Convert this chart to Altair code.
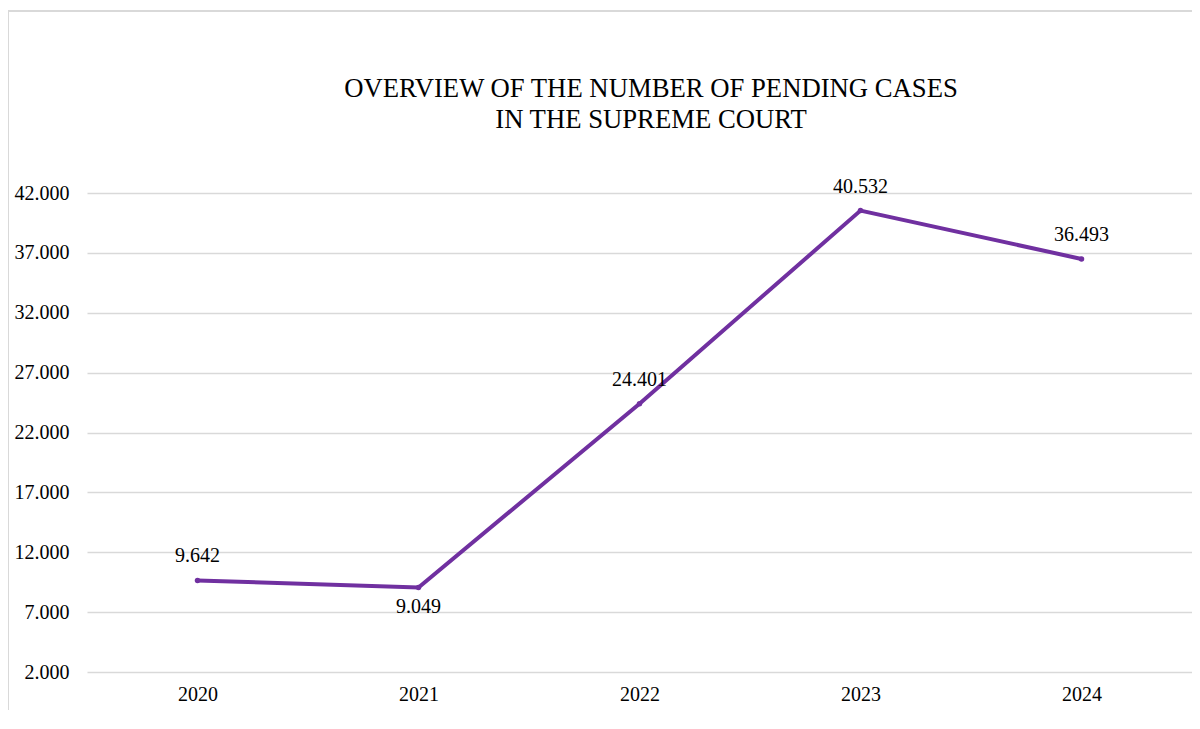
import altair as alt
import pandas as pd

years = ["2020", "2021", "2022", "2023", "2024"]
values = [9642, 9049, 24401, 40532, 36493]
label_pos = ["above", "below", "above", "above", "above"]
y_ticks = [2000, 7000, 12000, 17000, 22000, 27000, 32000, 37000, 42000]
title_lines = ["OVERVIEW OF THE NUMBER OF PENDING CASES", "IN THE SUPREME COURT"]

df = pd.DataFrame({"year": years, "value": values, "pos": label_pos})
df["label"] = [f"{v:,}".replace(",", ".") for v in values]

FONT = "Liberation Serif"
PURPLE = "#7030A0"
W, H = 1105, 479

x_enc = alt.X("year:N", sort=years, title=None,
              scale=alt.Scale(type="point", padding=0.5),
              axis=alt.Axis(labelAngle=0, ticks=False, domain=False, grid=False,
                            labelFont=FONT, labelFontSize=20, labelColor="#000000",
                            labelPadding=12))
y_enc = alt.Y("value:Q", title=None,
              scale=alt.Scale(domain=[2000, 42000], nice=False, zero=False),
              axis=alt.Axis(values=y_ticks, domain=False, ticks=False,
                            gridColor="#d9d9d9", gridWidth=1.5,
                            labelFont=FONT, labelFontSize=20, labelColor="#000000",
                            labelPadding=18,
                            labelExpr="replace(format(datum.value, ','), ',', '.')"))

base = alt.Chart(df)
line = base.mark_line(color=PURPLE, strokeWidth=4).encode(x=x_enc, y=y_enc)
pts = base.mark_circle(color=PURPLE, size=30, opacity=1).encode(x=x_enc, y=y_enc)

lab_above = base.transform_filter(alt.datum.pos == "above").mark_text(
    font=FONT, fontSize=20, color="#000000", dy=-24, baseline="middle"
).encode(x=x_enc, y=y_enc, text="label:N")
lab_below = base.transform_filter(alt.datum.pos == "below").mark_text(
    font=FONT, fontSize=20, color="#000000", dy=19, baseline="middle"
).encode(x=x_enc, y=y_enc, text="label:N")

tdf = pd.DataFrame({"t": title_lines, "i": [0, 1]})
title = alt.Chart(tdf).mark_text(
    font=FONT, fontSize=26.7, color="#000000", align="center", baseline="alphabetic"
).encode(
    text="t:N",
    x=alt.value(564),
    y=alt.Y("i:O", scale=alt.Scale(domain=[0, 1], range=[-96, -65], type="point", padding=0), axis=None),
)

border = alt.Chart(pd.DataFrame({"a": [0]})).mark_rect(
    fill=None, stroke="#d9d9d9", strokeWidth=2
).encode(x=alt.value(-79), x2=alt.value(W + 30), y=alt.value(-182), y2=alt.value(H + 80))

chart = alt.layer(border, line, pts, lab_above, lab_below, title).resolve_scale(
    y="independent"
).properties(
    width=W, height=H,
    autosize=alt.AutoSizeParams(type="none"),
    padding={"left": 79, "top": 185, "right": 0, "bottom": 38},
).configure_view(stroke=None)

chart.save("out.html", embed_options={"renderer": "svg", "actions": False})
